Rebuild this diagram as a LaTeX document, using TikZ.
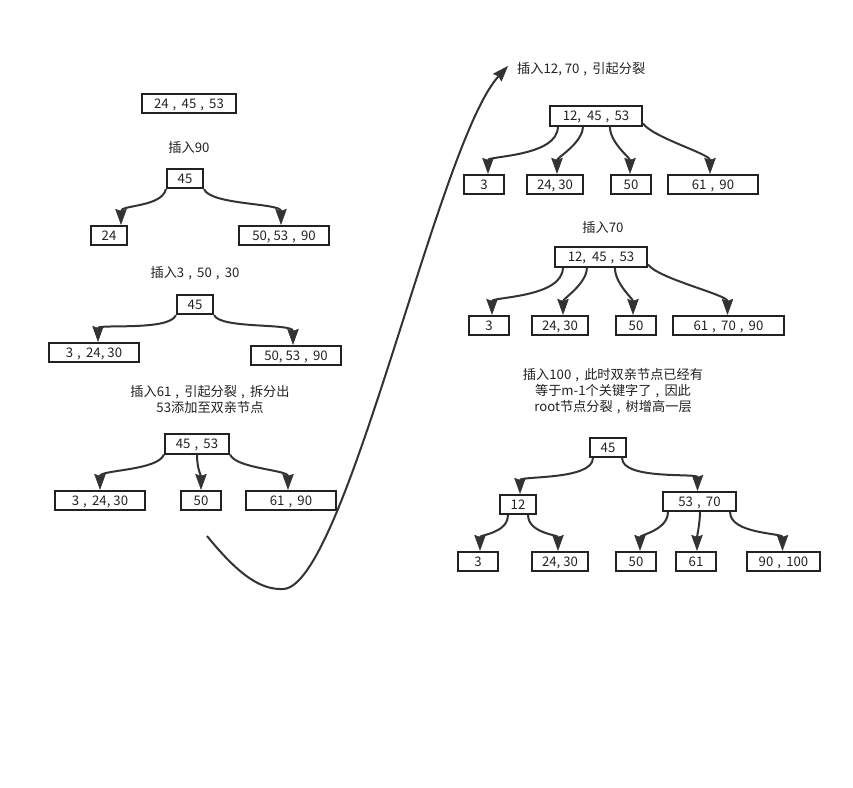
\documentclass[tikz,border=0pt]{standalone}
\usepackage{fontspec}
\setmainfont{Noto Sans CJK SC}
\usetikzlibrary{arrows.meta,calc}
\definecolor{ink}{HTML}{333333}
\definecolor{txt}{HTML}{222222}
\definecolor{frame}{HTML}{222222}
\newcommand{\cm}{\kern0.3em,\kern0.4em}
\begin{document}
\begin{tikzpicture}[x=1pt,y=-1pt,
 box/.style={draw=frame, line width=1.7pt, fill=white, inner sep=0pt, minimum height=19.5pt, text=txt, text height=9.6pt, text depth=0pt, font=\fontsize{13.2}{15}\selectfont},
 lbl/.style={text=txt, font=\fontsize{13.2}{16}\selectfont, align=center, inner sep=0pt},
 edge/.style={draw=ink, line width=2pt, -{Stealth[length=16pt,width=11.5pt,inset=2pt,line width=0.5pt]}}]
\useasboundingbox[fill=white] (0,0) rectangle (853,787);

% ---------- left column ----------
\node[box, minimum width=94.5pt] (a0) at (189,103.5) {24\cm 45\cm 53};

\node[lbl] (l1) at (189,147) {插入90};
\node[box, minimum width=36.5pt] (b0) at (185,178.5) {45};
\node[box, minimum width=36.5pt] (b1) at (109,235.5) {24};
\node[box, minimum width=90.5pt] (b2) at (284,235.5) {50, 53\cm 90};
\draw[edge] (b0.south west) .. controls +(-4,18) and +(0,-20) .. ($(b1.north)+(12,0)$);
\draw[edge] (b0.south east) .. controls +(6,16) and +(0,-22) .. ($(b2.north)+(-3,0)$);

\node[lbl] (l2) at (195,273) {插入3\cm 50\cm 30};
\node[box, minimum width=36.5pt] (c0) at (195,304.5) {45};
\node[box, minimum width=90.5pt] (c1) at (94,352.5) {3\cm 24, 30};
\node[box, minimum width=90.5pt] (c2) at (296,355.5) {50, 53\cm 90};
\draw[edge] (c0.south west) .. controls +(-6,16) and +(0,-18) .. ($(c1.north)+(4,0)$);
\draw[edge] (c0.south east) .. controls +(6,14) and +(0,-22) .. ($(c2.north)+(-3,0)$);

\node[lbl] (l3) at (210,399) {插入61\cm 引起分裂\cm 拆分出\\53添加至双亲节点};
\node[box, minimum width=64.5pt] (d0) at (197,444) {45\cm 53};
\node[box, minimum width=90.5pt] (d1) at (100,500.5) {3\cm 24, 30};
\node[box, minimum width=40.5pt] (d2) at (201,500.5) {50};
\node[box, minimum width=90.5pt] (d3) at (291,500.5) {61\cm 90};
\draw[edge] (d0.south west) .. controls +(-6,16) and +(0,-20) .. (d1.north);
\draw[edge] (d0.south) .. controls +(0,14) and +(0,-14) .. (d2.north);
\draw[edge] (d0.south east) .. controls +(6,14) and +(0,-20) .. ($(d3.north)+(-3,0)$);

% ---------- big connector ----------
\coordinate (cs) at (207,536);
\coordinate (cb) at (283,589);
\coordinate (ce) at (508,66);
\draw[edge] (cs) .. controls (238,574) and (260,590) .. (cb) .. controls (345,588) and (438,142) .. (ce);

% ---------- right column ----------
\node[lbl, anchor=west] (l4) at (517,69) {插入12, 70\cm 引起分裂};
\node[box, minimum width=92.5pt] (e0) at (596,116) {12,\ \ 45\cm 53};
\node[box, minimum width=40.5pt] (e1) at (484,184.5) {3};
\node[box, minimum width=56.5pt] (e2) at (555,184.5) {24, 30};
\node[box, minimum width=40.5pt] (e3) at (631,184.5) {50};
\node[box, minimum width=90.5pt] (e4) at (713,184.5) {61\cm 90};
\draw[edge] ($(e0.south west)+(9,0)$) .. controls +(0,30) and +(0,-18) .. ($(e1.north)+(4,0)$);
\draw[edge] ($(e0.south west)+(34,0)$) .. controls +(0,16) and +(0,-16) .. ($(e2.north)+(2,0)$);
\draw[edge] ($(e0.south west)+(61,0)$) .. controls +(0,16) and +(0,-16) .. ($(e3.north)+(-1,0)$);
\draw[edge] ($(e0.south east)+(0,-3)$) .. controls +(10,14) and +(0,-20) .. ($(e4.north)+(-3,0)$);

\node[lbl] (l5) at (603,227) {插入70};
\node[box, minimum width=92.5pt] (f0) at (601,257) {12,\ \ 45\cm 53};
\node[box, minimum width=40.5pt] (f1) at (489,325.5) {3};
\node[box, minimum width=56.5pt] (f2) at (560,325.5) {24, 30};
\node[box, minimum width=40.5pt] (f3) at (636,325.5) {50};
\node[box, minimum width=111.5pt] (f4) at (728.5,325.5) {61\cm 70\cm 90};
\draw[edge] ($(f0.south west)+(9,0)$) .. controls +(0,30) and +(0,-18) .. ($(f1.north)+(3,0)$);
\draw[edge] ($(f0.south west)+(33,0)$) .. controls +(0,16) and +(0,-16) .. ($(f2.north)+(3,0)$);
\draw[edge] ($(f0.south west)+(61,0)$) .. controls +(0,16) and +(0,-16) .. ($(f3.north)+(-3,0)$);
\draw[edge] ($(f0.south east)+(0,-3)$) .. controls +(10,14) and +(0,-20) .. ($(f4.north)+(-1,0)$);

\node[lbl] (l6) at (613,391) {插入100\cm 此时双亲节点已经有\\等于m-1个关键字了\cm 因此\\root节点分裂\cm 树增高一层};
\node[box, minimum width=36.5pt] (g0) at (608,447.5) {45};
\node[box, minimum width=36.5pt] (g1) at (518,504.5) {12};
\node[box, minimum width=73.5pt] (g2) at (699.5,501.5) {53\cm 70};
\node[box, minimum width=40.5pt] (g3) at (478,561.5) {3};
\node[box, minimum width=56.5pt] (g4) at (560,561.5) {24, 30};
\node[box, minimum width=40.5pt] (g5) at (636,561.5) {50};
\node[box, minimum width=40.5pt] (g6) at (696,561.5) {61};
\node[box, minimum width=73.5pt] (g7) at (783.5,561.5) {90\cm 100};
\draw[edge] ($(g0.south west)+(4,0)$) .. controls +(0,22) and +(0,-18) .. ($(g1.north)+(2,0)$);
\draw[edge] ($(g0.south east)+(-5,0)$) .. controls +(0,22) and +(0,-18) .. ($(g2.north)+(-2,0)$);
\draw[edge] ($(g1.south west)+(9,0)$) .. controls +(0,18) and +(0,-16) .. ($(g3.north)+(2,0)$);
\draw[edge] ($(g1.south east)+(-9,0)$) .. controls +(0,18) and +(0,-16) .. ($(g4.north)+(-2,0)$);
\draw[edge] ($(g2.south west)+(6,0)$) .. controls +(0,18) and +(0,-16) .. ($(g5.north)+(4,0)$);
\draw[edge] ($(g2.south)+(0.5,0)$) .. controls +(0,10) and +(0,-14) .. ($(g6.north)+(1,0)$);
\draw[edge] ($(g2.south east)+(-7,0)$) .. controls +(0,22) and +(0,-18) .. ($(g7.north)+(-1,0)$);
\end{tikzpicture}
\end{document}
